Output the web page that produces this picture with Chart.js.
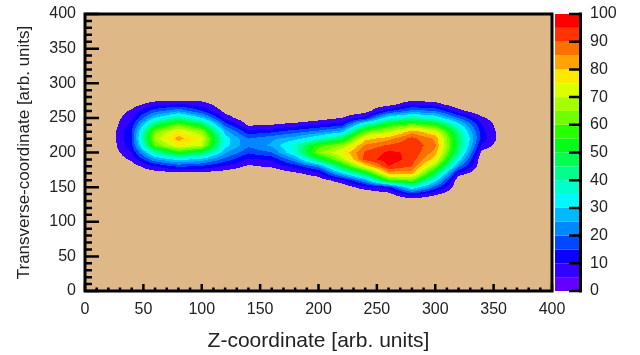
<!DOCTYPE html>
<html>
<head>
<meta charset="utf-8">
<script src="https://cdn.jsdelivr.net/npm/chart.js@4.4.1/dist/chart.umd.min.js"></script>
<style>
    html, body { margin: 0; padding: 0; background: #ffffff; }
    #wrap { width: 640px; height: 355px; position: relative; }
</style>
</head>
<body>
<div id="wrap"><canvas id="contour"></canvas></div>
<script>
'use strict'

// grid nodes (arb. units)
const zCoords = [20, 40, 60, 80, 100, 120, 140, 160, 180, 200, 220, 240, 260, 280, 300, 320, 340, 360]
const tCoords = [290, 280, 270, 260, 250, 240, 230, 220, 210, 200, 190, 180, 170, 160, 150, 140, 130, 120]

// intensity, one array per transverse row
const row290 = [0, 0, 0, 0, 0, 0, 0, 0, 0, 0, 0, 0, 0, 0, 0, 0, 0, 0]
const row280 = [0, 0, 0, 0, 0, 0, 0, 0, 0, 0, 0, 0, 0, 0, 0, 0, 0, 0]
const row270 = [0, 2, 8, 10, 8, 0, 0, 0, 0, 0, 0, 0, 2, 9, 7, 0, 0, 0]
const row260 = [0, 6, 18, 24, 15, 3, 0, 0, 0, 0, 0, 2, 14, 22, 20, 7, 0, 0]
const row250 = [0, 9, 30, 42, 30, 8, 0, 0, 0, 2, 5, 12, 35, 40, 35, 20, 6, 0]
const row240 = [0, 12, 48, 62, 50, 18, 4, 5, 7, 10, 13, 40, 55, 62, 56, 33, 10, 0]
const row230 = [0, 15, 63, 77, 66, 28, 12, 14, 18, 22, 28, 62, 70, 83, 75, 42, 12, 0]
const row220 = [0, 15, 68, 82, 74, 33, 20, 24, 28, 36, 48, 78, 83, 92, 84, 46, 13, 0]
const row210 = [0, 14, 60, 76, 70, 32, 21, 26, 38, 58, 66, 86, 91, 94, 86, 46, 9, 0]
const row200 = [0, 10, 40, 55, 47, 26, 16, 20, 36, 64, 75, 91, 96, 94, 83, 42, 3, 0]
const row190 = [0, 6, 24, 32, 28, 18, 9, 11, 24, 48, 68, 92, 98, 93, 77, 33, 0, 0]
const row180 = [0, 2, 10, 16, 14, 9, 4, 6, 12, 22, 50, 76, 95, 90, 64, 22, 0, 0]
const row170 = [0, 0, 2, 3, 3, 2, 0, 0, 4, 8, 30, 50, 82, 82, 48, 8, 0, 0]
const row160 = [0, 0, 0, 0, 0, 0, 0, 0, 0, 2, 8, 25, 58, 62, 33, 0, 0, 0]
const row150 = [0, 0, 0, 0, 0, 0, 0, 0, 0, 0, 1, 8, 12, 36, 18, 0, 0, 0]
const row140 = [0, 0, 0, 0, 0, 0, 0, 0, 0, 0, 0, 0, 3, 13, 6, 0, 0, 0]
const row130 = [0, 0, 0, 0, 0, 0, 0, 0, 0, 0, 0, 0, 0, 0, 0, 0, 0, 0]
const row120 = [0, 0, 0, 0, 0, 0, 0, 0, 0, 0, 0, 0, 0, 0, 0, 0, 0, 0]

const intensityRows = [row290, row280, row270, row260, row250, row240, row230, row220, row210,
    row200, row190, row180, row170, row160, row150, row140, row130, row120]

// contour levels: 0,5,...,100 -> 20 bands
const levelStep = 5
const levelColors = [
    '#6400ff', '#3400ff', '#0a00ff', '#0048ff', '#0088ff',
    '#00b8ff', '#00f8ff', '#00ffcc', '#00ff8c', '#00ff50',
    '#00ff18', '#28ff00', '#70ff00', '#a4ff00', '#dcff00',
    '#ffe800', '#ffa400', '#ff7000', '#ff3400', '#ff0000'
]
const frameColor = '#deb887'

const axisTicks = [0, 50, 100, 150, 200, 250, 300, 350, 400]
const minorTicks = [10, 20, 30, 40, 60, 70, 80, 90, 110, 120, 130, 140, 160, 170, 180, 190,
    210, 220, 230, 240, 260, 270, 280, 290, 310, 320, 330, 340, 360, 370, 380, 390]
const colorbarTicks = [0, 10, 20, 30, 40, 50, 60, 70, 80, 90, 100]

const fontFamily = "'Liberation Sans', Arial, Helvetica, sans-serif"
const textColor = '#222222'

function findCell(coords, v) {
    for (let i = 0; i < coords.length - 1; i++) {
        const a = coords[i], b = coords[i + 1]
        if ((v >= a && v <= b) || (v <= a && v >= b)) {
            return [i, (v - a) / (b - a)]
        }
    }
    return null
}

function sampleIntensity(xv, yv) {
    const cx = findCell(zCoords, xv)
    const cy = findCell(tCoords, yv)
    if (!cx || !cy) return 0
    const [i, fx] = cx
    const [j, fy] = cy
    const r0 = intensityRows[j], r1 = intensityRows[j + 1]
    const top = r0[i] * (1 - fx) + r0[i + 1] * fx
    const bottom = r1[i] * (1 - fx) + r1[i + 1] * fx
    return top * (1 - fy) + bottom * fy
}

function hexToRgb(hex) {
    const n = parseInt(hex.slice(1), 16)
    return [(n >> 16) & 255, (n >> 8) & 255, n & 255]
}

// keep the frame where the reference has it
function fixBox(size) {
    return s => {
        if (size.width) s.width = size.width
        if (size.height) s.height = size.height
        s.paddingTop = 0
        s.paddingBottom = 0
        s.paddingLeft = 0
        s.paddingRight = 0
    }
}

const contourPlugin = {
    id: 'contour',
    beforeDatasetsDraw(chart) {
        const {ctx, chartArea: a, scales: {x, y}} = chart
        const left = Math.round(a.left), top = Math.round(a.top)
        const w = Math.round(a.right) - left, h = Math.round(a.bottom) - top
        const img = ctx.createImageData(w, h)
        const bg = hexToRgb(frameColor)
        const pal = levelColors.map(hexToRgb)
        for (let py = 0; py < h; py++) {
            const yv = y.getValueForPixel(top + py + 0.5)
            for (let px = 0; px < w; px++) {
                const xv = x.getValueForPixel(left + px + 0.5)
                const v = sampleIntensity(xv, yv)
                let c = bg
                if (v >= levelStep) {
                    c = pal[Math.min(pal.length - 1, Math.floor(v / levelStep))]
                }
                const k = (py * w + px) * 4
                img.data[k] = c[0]
                img.data[k + 1] = c[1]
                img.data[k + 2] = c[2]
                img.data[k + 3] = 255
            }
        }
        ctx.putImageData(img, left, top)
    },
    afterDraw(chart) {
        const {ctx, chartArea: a, scales: {x, y, z}} = chart
        ctx.save()
        // ticks inside the frame
        ctx.strokeStyle = '#000'
        ctx.lineWidth = 2.5
        ctx.beginPath()
        axisTicks.forEach(v => {
            const py = y.getPixelForValue(v)
            ctx.moveTo(a.left, py); ctx.lineTo(a.left + 14, py)
            const px = x.getPixelForValue(v)
            ctx.moveTo(px, a.bottom); ctx.lineTo(px, a.bottom - 7)
        })
        minorTicks.forEach(v => {
            const py = y.getPixelForValue(v)
            ctx.moveTo(a.left, py); ctx.lineTo(a.left + 7, py)
            const px = x.getPixelForValue(v)
            ctx.moveTo(px, a.bottom); ctx.lineTo(px, a.bottom - 3.5)
        })
        ctx.stroke()
        // frame
        ctx.lineWidth = 3
        ctx.strokeRect(a.left, a.top, a.right - a.left, a.bottom - a.top)

        // colour bar
        const x0 = a.right + 3, x1 = a.right + 27
        levelColors.forEach((col, k) => {
            const p0 = z.getPixelForValue(k * levelStep)
            const p1 = z.getPixelForValue((k + 1) * levelStep)
            ctx.fillStyle = col
            ctx.fillRect(x0, p1, x1 - x0, p0 - p1)
        })
        ctx.beginPath()
        ctx.lineWidth = 3
        ctx.moveTo(x1 + 1.5, z.getPixelForValue(100) - 1.5)
        ctx.lineTo(x1 + 1.5, z.getPixelForValue(0) + 1.5)
        ctx.stroke()
        ctx.beginPath()
        ctx.lineWidth = 2.5
        colorbarTicks.forEach(v => {
            const py = z.getPixelForValue(v)
            ctx.moveTo(x1 - 10, py); ctx.lineTo(x1 + 1.5, py)
        })
        ctx.stroke()
        ctx.restore()
    }
}

const tickFont = {family: fontFamily, size: 16}

new Chart(document.getElementById('contour'), {
    type: 'scatter',
    data: {datasets: []},
    options: {
        responsive: true,
        maintainAspectRatio: false,
        animation: false,
        events: [],
        layout: {padding: {top: 14, left: 0, right: 0, bottom: 0}},
        plugins: {legend: {display: false}, tooltip: {enabled: false}},
        scales: {
            x: {
                type: 'linear', position: 'bottom', min: 0, max: 400,
                afterBuildTicks: s => { s.ticks = axisTicks.map(v => ({value: v})) },
                afterFit: fixBox({height: 64}),
                grid: {display: false, drawTicks: false},
                border: {display: false},
                ticks: {font: tickFont, color: textColor, padding: 9, autoSkip: false, maxRotation: 0},
                title: {display: true, text: 'Z-coordinate [arb. units]', color: textColor,
                    font: {family: fontFamily, size: 21}, padding: {top: 0, bottom: 1}}
            },
            y: {
                type: 'linear', position: 'left', min: 0, max: 400,
                afterBuildTicks: s => { s.ticks = axisTicks.map(v => ({value: v})) },
                afterFit: fixBox({width: 85}),
                grid: {display: false, drawTicks: false},
                border: {display: false},
                ticks: {font: tickFont, color: textColor, padding: 9, autoSkip: false},
                title: {display: true, text: 'Transverse-coordinate [arb. units]', color: textColor,
                    font: {family: fontFamily, size: 17}, padding: {top: 14, bottom: 0}}
            },
            z: {
                type: 'linear', axis: 'y', position: 'right', min: 0, max: 100,
                afterBuildTicks: s => { s.ticks = colorbarTicks.map(v => ({value: v})) },
                afterFit: fixBox({width: 88}),
                grid: {display: false, drawTicks: false},
                border: {display: false},
                ticks: {font: tickFont, color: textColor, padding: 38, autoSkip: false}
            }
        }
    },
    plugins: [contourPlugin]
})
</script>
</body>
</html>
